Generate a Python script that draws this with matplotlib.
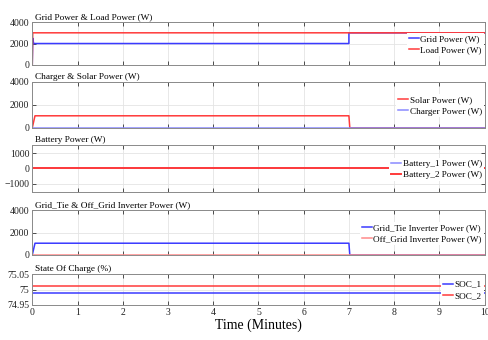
import matplotlib.pyplot as plt

plt.rcParams.update({
    "font.family": "Liberation Serif",
    "font.size": 7,
    "axes.edgecolor": "#8a8a8a",
    "axes.linewidth": 0.7,
    "xtick.color": "#333333",
    "ytick.color": "#333333",
    "xtick.labelcolor": "#222222",
    "ytick.labelcolor": "#222222",
})

BLUE = "#3a3aff"
RED = "#ff3a3a"
LBLUE = "#8a8aff"
LRED = "#ff8a8a"

# Data (time in minutes)
t_grid = [0, 0.01, 0.03, 7.0, 7.0, 10]
grid_power = [0, 2500, 2000, 2000, 3000, 3000]
t_load = [0, 0.01, 10]
load_power = [0, 3000, 3000]

t_solar = [0, 0.06, 7.0, 7.02, 10]
solar_power = [0, 1050, 1050, 0, 0]
t_charger = [0, 10]
charger_power = [0, 0]

t_batt = [0, 10]
battery1_power = [0, 0]
battery2_power = [0, 0]

t_tie = [0, 0.06, 7.0, 7.02, 10]
grid_tie_power = [0, 1050, 1050, 0, 0]
t_off = [0, 10]
off_grid_power = [0, 0]

t_soc = [0, 10]
soc_1 = [74.988, 74.988]
soc_2 = [75.012, 75.012]

fig = plt.figure(figsize=(4.89, 3.40), dpi=100)

left, width = 0.066, 0.925
rows = [(0.809, 0.126), (0.624, 0.135), (0.435, 0.139), (0.25, 0.132), (0.103, 0.091)]
axes = [fig.add_axes([left, b, width, h]) for b, h in rows]

titles = [
    "Grid Power & Load Power (W)",
    "Charger & Solar Power (W)",
    "Battery Power (W)",
    "Grid_Tie & Off_Grid Inverter Power (W)",
    "State Of Charge (%)",
]

ax = axes[0]
ax.plot(t_grid, grid_power, color=BLUE, lw=1.1, label="Grid Power (W)")
ax.plot(t_load, load_power, color=RED, lw=1.1, label="Load Power (W)")
ax.set_ylim(0, 4000)
ax.set_yticks([0, 2000, 4000])

ax = axes[1]
ax.plot(t_solar, solar_power, color=RED, lw=1.1, label="Solar Power (W)")
ax.plot(t_charger, charger_power, color=LBLUE, lw=1.1, label="Charger Power (W)")
ax.set_ylim(0, 4000)
ax.set_yticks([0, 2000, 4000])

ax = axes[2]
ax.plot(t_batt, battery1_power, color=LBLUE, lw=1.1, label="Battery_1 Power (W)")
ax.plot(t_batt, battery2_power, color=RED, lw=1.4, label="Battery_2 Power (W)")
ax.set_ylim(-1550, 1550)
ax.set_yticks([-1000, 0, 1000])

ax = axes[3]
ax.plot(t_tie, grid_tie_power, color=BLUE, lw=1.1, label="Grid_Tie Inverter Power (W)")
ax.plot(t_off, off_grid_power, color=LRED, lw=1.1, label="Off_Grid Inverter Power (W)")
ax.set_ylim(0, 4000)
ax.set_yticks([0, 2000, 4000])

ax = axes[4]
ax.plot(t_soc, soc_1, color=BLUE, lw=1.1, label="SOC_1")
ax.plot(t_soc, soc_2, color=RED, lw=1.1, label="SOC_2")
ax.set_ylim(74.95, 75.05)
ax.set_yticks([74.95, 75, 75.05])
ax.set_yticklabels(["74.95", "75", "75.05"])

for ax, title in zip(axes, titles):
    ax.set_xlim(0, 10)
    ax.set_xticks(range(11))
    ax.grid(True, color="#e4e4e4", lw=0.6)
    ax.tick_params(direction="in", length=3, width=0.6, top=True, right=True, pad=2)
    ax.text(0.005, 1.02, title, transform=ax.transAxes, fontsize=6.7,
            ha="left", va="bottom")
    ax.legend(loc="center right", bbox_to_anchor=(1.0, 0.48), fontsize=6.6,
              frameon=True, framealpha=1, facecolor="white", edgecolor="none",
              handlelength=1.1, handletextpad=0.15, borderpad=0.2,
              labelspacing=0.3, borderaxespad=0.1, fancybox=False)

for ax in axes[:-1]:
    ax.tick_params(labelbottom=False)

axes[-1].set_xlabel("Time (Minutes)", fontsize=10, labelpad=1)

plt.savefig("out.png", dpi=100)
